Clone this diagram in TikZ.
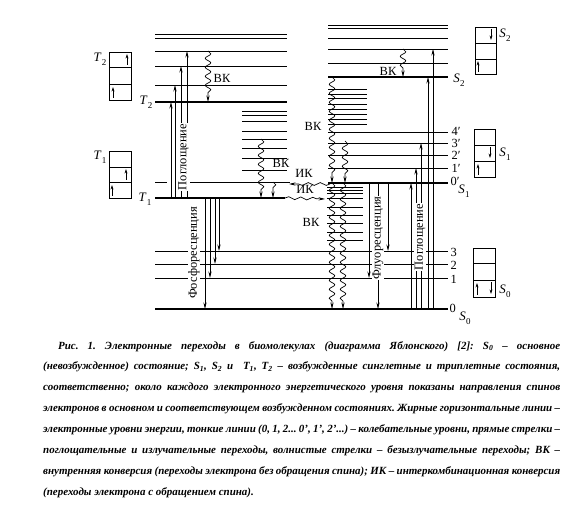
\documentclass[tikz,border=0pt]{standalone}
\usepackage{fontspec}
\setmainfont{Liberation Serif}
\usetikzlibrary{arrows.meta,decorations.pathmorphing}
\newcommand\lv[2]{\textit{#1}\kern0.3bp\raisebox{-0.32em}{\fontsize{9}{9}\selectfont #2}}
\tikzset{
  lvl/.style={line width=0.7bp},
  elvl/.style={line width=2.2bp},
  arr/.style={line width=0.7bp,-{Stealth[length=6.5bp,width=3.2bp]}},
  wav/.style={line width=0.7bp,-{Stealth[length=6.5bp,width=3.2bp]},decorate,
     decoration={snake,amplitude=2.8bp,segment length=9bp,post length=6bp}},
  wavh/.style={line width=0.7bp,-{Stealth[length=6.5bp,width=3.2bp]},decorate,
     decoration={snake,amplitude=1.4bp,segment length=12bp,post length=6bp}},
  lab/.style={font=\fontsize{12.5}{12.5}\selectfont,inner sep=0.5bp},
  vlab/.style={lab,rotate=90,fill=white,inner sep=0.6bp},
  slab/.style={font=\fontsize{13}{13}\selectfont,inner sep=0.5bp},
  nlab/.style={font=\fontsize{12.5}{12.5}\selectfont,inner sep=0.5bp,anchor=west},
  boxl/.style={line width=0.7bp},
  spin/.style={line width=0.6bp,-{Stealth[length=4.5bp,width=2.8bp]}},
  capt/.style={anchor=base west,text width=517bp,align=justify,inner sep=0,
     font=\fontsize{11}{21}\selectfont\bfseries\itshape\frenchspacing}
}
\begin{document}
\begin{tikzpicture}[x=1bp,y=-1bp]
\fill[white] (0,0) rectangle (580,509);
\useasboundingbox (0,0) rectangle (580,509);

% ---------- T2 manifold
\foreach \y in {34,38,51,66,85} \draw[lvl] (155,\y) -- (287,\y);
\draw[elvl] (155,102) -- (287,102);
% ---------- T1 vibrational stack
\foreach \y in {111,115,121,131,139,148,158,170} \draw[lvl] (242,\y) -- (287,\y);
\draw[lvl] (155,182) -- (167,182);
\draw[lvl] (190,182) -- (290,182);
\draw[elvl] (155,198) -- (285,198);

% ---------- S2 manifold
\foreach \y in {25,28,38,49,63} \draw[lvl] (328,\y) -- (448,\y);
\draw[elvl] (328,77) -- (448,77);
% ---------- S1 manifold
\foreach \y in {89,94,98,104,109,114,119,124} \draw[lvl] (328,\y) -- (367,\y);
\foreach \y in {132,143,155,168} \draw[lvl] (328,\y) -- (448,\y);
\draw[elvl] (328,183) -- (448,183);
% ---------- S0 manifold
\foreach \y in {187,190,193,198,207,215,223,232,240} \draw[lvl] (327,\y) -- (363,\y);
\foreach \y in {251,264,278} \draw[lvl] (155,\y) -- (448,\y);
\draw[elvl] (155,309) -- (448,309);

% ---------- absorption T1 -> T2
\draw[arr] (171,198) -- (171,102);
\draw[arr] (175,198) -- (175,85);
\draw[arr] (181,198) -- (181,66);
\draw[arr] (187,198) -- (187,51);
% ---------- phosphorescence
\draw[arr] (205,198) -- (205,309);
\draw[arr] (210,198) -- (210,278);
\draw[arr] (215,198) -- (215,264);
\draw[arr] (219,198) -- (219,251);
% ---------- absorption S0 -> S1, S2
\draw[arr] (411,309) -- (411,183);
\draw[arr] (416,309) -- (416,168);
\draw[arr] (421,309) -- (421,143);
\draw[arr] (428,309) -- (428,77);
\draw[arr] (433,309) -- (433,49);
% ---------- fluorescence
\draw[arr] (369,183) -- (369,278);
\draw[arr] (378,183) -- (378,309);
\draw[arr] (388,183) -- (388,251);

% ---------- non-radiative (wavy)
\draw[wav] (208,51) -- (208,102);
\draw[wav] (403,49) -- (403,77);
\draw[wav] (332,77) -- (332,183);
\draw[wav] (345,141) -- (345,183);
\draw[wav] (332,183) -- (332,309);
\draw[wav] (343,183) -- (343,309);
\draw[wav] (261,139) -- (261,198);
\draw[wav] (273,182) -- (273,198);
\draw[wavh] (330,184) -- (289,184);
\draw[wavh] (285,198) -- (325,199);

% ---------- labels of transitions
\node[lab] (vk1) at (222,78) {ВК};
\node[lab] (vk2) at (388,71) {ВК};
\node[lab] (vk3) at (313,126) {ВК};
\node[lab] (vk4) at (281,163) {ВК};
\node[lab] (vk5) at (311,222) {ВК};
\node[lab] (ik1) at (304,173) {ИК};
\node[lab] (ik2) at (305,189) {ИК};
\node[vlab] (abs1) at (183.5,157) {Поглощение};
\node[vlab] (phos) at (194,253) {Фосфоресценция};
\node[vlab] (fluo) at (378,238) {Флуоресценция};
\node[vlab] (abs2) at (420,237) {Поглощение};

% ---------- level labels
\node[slab] (lT2) at (146,102) {\lv{T}{2}};
\node[slab] (lT1) at (145,199) {\lv{T}{1}};
\node[slab] (lS2) at (459,80) {\lv{S}{2}};
\node[nlab] (l4) at (451,131) {4′};
\node[nlab] (l3p) at (451,143) {3′};
\node[nlab] (l2p) at (451,155) {2′};
\node[nlab] (l1p) at (451,168) {1′};
\node[nlab] (l0p) at (450,181) {0′};
\node[slab] (lS1) at (464,191) {\lv{S}{1}};
\node[nlab] (l3) at (450,252) {3};
\node[nlab] (l2) at (450,265) {2};
\node[nlab] (l1) at (450,279) {1};
\node[nlab] (l0) at (449,308) {0};
\node[slab] (lS0) at (465,318) {\lv{S}{0}};

% ---------- spin boxes
% T2
\draw[boxl] (109,52) rectangle (131,100);
\draw[boxl] (109,67) -- (131,67) (109,84) -- (131,84);
\draw[spin] (127,65) -- (127,54);
\draw[spin] (113,98) -- (113,87);
\node[slab] (bT2) at (100,59) {\lv{T}{2}};
% T1
\draw[boxl] (109,151) rectangle (131,198);
\draw[boxl] (109,167) -- (131,167) (109,182) -- (131,182);
\draw[spin] (126,180) -- (126,169);
\draw[spin] (112,196) -- (112,185);
\node[slab] (bT1) at (100,157) {\lv{T}{1}};
% S2
\draw[boxl] (475,27) rectangle (496,74);
\draw[boxl] (475,43) -- (496,43) (475,59) -- (496,59);
\draw[spin] (491,29) -- (491,40);
\draw[spin] (478,72) -- (478,61);
\node[slab] (bS2) at (505,35) {\lv{S}{2}};
% S1
\draw[boxl] (474,129) rectangle (495,177);
\draw[boxl] (474,145) -- (495,145) (474,161) -- (495,161);
\draw[spin] (490,147) -- (490,158);
\draw[spin] (478,175) -- (478,164);
\node[slab] (bS1) at (505,154) {\lv{S}{1}};
% S0
\draw[boxl] (473,248) rectangle (495,297);
\draw[boxl] (473,263) -- (495,263) (473,280) -- (495,280);
\draw[spin] (477,295) -- (477,283);
\draw[spin] (491,282) -- (491,294);
\node[slab] (bS0) at (505,291) {\lv{S}{0}};

% ---------- caption
\node[capt] (cap) at (43,349) {\hspace*{15bp}Рис. 1. Электронные переходы в биомолекулах (диаграмма Яблонского) [2]: S\textsubscript{0} – основное\linebreak
(невозбужденное) состояние; S\textsubscript{1}, S\textsubscript{2} и\ \ T\textsubscript{1}, T\textsubscript{2} – возбужденные синглетные и триплетные состояния,\linebreak
соответственно; около каждого электронного энергетического уровня показаны направления спинов\linebreak
электронов в основном и соответствующем возбужденном состояниях. Жирные горизонтальные линии –\linebreak
электронные уровни энергии, тонкие линии (0, 1, 2... 0’, 1’, 2’...) – колебательные уровни, прямые стрелки –\linebreak
поглощательные и излучательные переходы, волнистые стрелки – безызлучательные переходы; ВК –\linebreak
внутренняя конверсия (переходы электрона без обращения спина); ИК – интеркомбинационная конверсия\linebreak
(переходы электрона с обращением спина).};
\end{tikzpicture}
\end{document}
